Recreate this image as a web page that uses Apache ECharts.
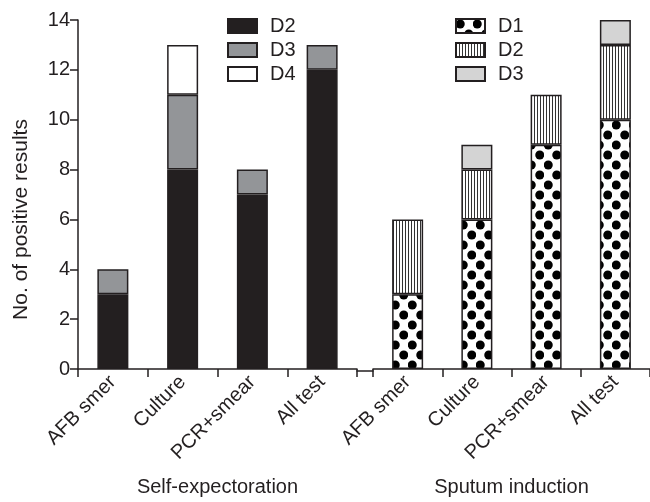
<!DOCTYPE html>
<html>
<head>
<meta charset="utf-8">
<script src="https://cdn.jsdelivr.net/npm/echarts@6/dist/echarts.min.js"></script>
<style>
html,body{margin:0;padding:0;background:#fff;}
#chart{width:650px;height:502px;}
</style>
</head>
<body>
<div id="chart"></div>
<script>
// ---- data ----
var categories = ['AFB smer', 'Culture', 'PCR+smear', 'All test'];
var groupNames = ['Self-expectoration', 'Sputum induction'];
var selfD2 = [3, 8, 7, 12];
var selfD3 = [1, 3, 1, 1];
var selfD4 = [0, 2, 0, 0];
var sputD1 = [3, 6, 9, 10];
var sputD2 = [3, 2, 2, 3];
var sputD3 = [0, 1, 0, 1];
var yTicks = [0, 2, 4, 6, 8, 10, 12, 14];

// ---- patterns ----
function dotPattern() {
  var c = document.createElement('canvas');
  c.width = 17; c.height = 20;
  var g = c.getContext('2d');
  g.fillStyle = '#fff'; g.fillRect(0, 0, 17, 20);
  g.fillStyle = '#000';
  g.beginPath(); g.arc(4.25, 5, 4.5, 0, Math.PI * 2); g.fill();
  g.beginPath(); g.arc(12.75, 15, 4.5, 0, Math.PI * 2); g.fill();
  return c;
}
function stripePattern() {
  var c = document.createElement('canvas');
  c.width = 3; c.height = 4;
  var g = c.getContext('2d');
  g.fillStyle = '#fff'; g.fillRect(0, 0, 3, 4);
  g.fillStyle = '#333'; g.fillRect(0, 0, 1, 4);
  return c;
}
var dotFill = { image: dotPattern(), repeat: 'repeat' };
var stripeFill = { image: stripePattern(), repeat: 'repeat' };

function nz(arr) { return arr.map(function (v) { return v === 0 ? '-' : v; }); }

var ink = '#231f20';
var font = 'Liberation Sans';
var fs = 20;

var chart = echarts.init(document.getElementById('chart'), null, { renderer: 'canvas' });

function xAxisCfg(gi, name) {
  return {
    type: 'category', gridIndex: gi, data: categories,
    name: name, nameLocation: 'middle', nameGap: 108,
    nameTextStyle: { fontFamily: font, fontSize: fs, color: ink },
    axisLine: { lineStyle: { color: ink, width: 1.5 } },
    axisTick: { show: true, length: 8, alignWithLabel: false, lineStyle: { color: ink, width: 1.5 } },
    axisLabel: { rotate: 45, interval: 0, margin: 10, fontFamily: font, fontSize: fs, color: ink }
  };
}
function yAxisCfg(gi, show) {
  return {
    type: 'value', gridIndex: gi, min: yTicks[0], max: yTicks[yTicks.length - 1], interval: 2,
    show: show,
    name: show ? 'No. of positive results' : '', nameLocation: 'middle', nameRotate: 90, nameGap: 46,
    nameTextStyle: { fontFamily: font, fontSize: 21, color: ink, padding: [0, 50, 0, 0] },
    axisLine: { show: true, lineStyle: { color: ink, width: 1.5 } },
    axisTick: { show: true, length: 8, lineStyle: { color: ink, width: 1.5 } },
    axisLabel: { margin: 8, fontFamily: font, fontSize: fs, color: ink },
    splitLine: { show: false }
  };
}

var border = { borderColor: ink, borderWidth: 1.5 };
function bar(name, xi, stack, data, color) {
  return {
    name: name, type: 'bar', xAxisIndex: xi, yAxisIndex: xi, stack: stack,
    data: nz(data), barWidth: 31,
    itemStyle: Object.assign({ color: color }, border),
    emphasis: { disabled: true }, animation: false
  };
}

var legendText = { fontFamily: font, fontSize: fs, lineHeight: 20, color: ink, padding: [0, 0, 0, 8] };
function legendCfg(left, names) {
  return { orient: 'vertical', left: left, top: 11, itemWidth: 29, itemHeight: 14, itemGap: 4,
    icon: 'rect', data: names, textStyle: legendText,
    formatter: function (n) { return n.split('-')[1]; }, selectedMode: false };
}
var option = {
  backgroundColor: '#fff',
  animation: false,
  grid: [
    { left: 78, top: 20, width: 279, height: 351 },
    { left: 373, top: 20, width: 280, height: 351 },
    { left: 357, top: 20, width: 16, height: 351 }
  ],
  legend: [
    legendCfg(222, ['se-D2', 'se-D3', 'se-D4']),
    legendCfg(450, ['si-D1', 'si-D2', 'si-D3'])
  ],
  xAxis: [
    xAxisCfg(0, groupNames[0]),
    xAxisCfg(1, groupNames[1]),
    { type: 'category', gridIndex: 2, data: [''],
      axisLine: { lineStyle: { color: ink, width: 1.5 } },
      axisTick: { show: false }, axisLabel: { show: false } }
  ],
  yAxis: [
    yAxisCfg(0, true),
    yAxisCfg(1, false),
    yAxisCfg(2, false)
  ],
  series: [
    bar('se-D2', 0, 'se', selfD2, ink),
    bar('se-D3', 0, 'se', selfD3, '#939598'),
    bar('se-D4', 0, 'se', selfD4, '#ffffff'),
    bar('si-D1', 1, 'si', sputD1, dotFill),
    bar('si-D2', 1, 'si', sputD2, stripeFill),
    bar('si-D3', 1, 'si', sputD3, '#d4d4d4')
  ]
};
chart.setOption(option);
</script>
</body>
</html>
